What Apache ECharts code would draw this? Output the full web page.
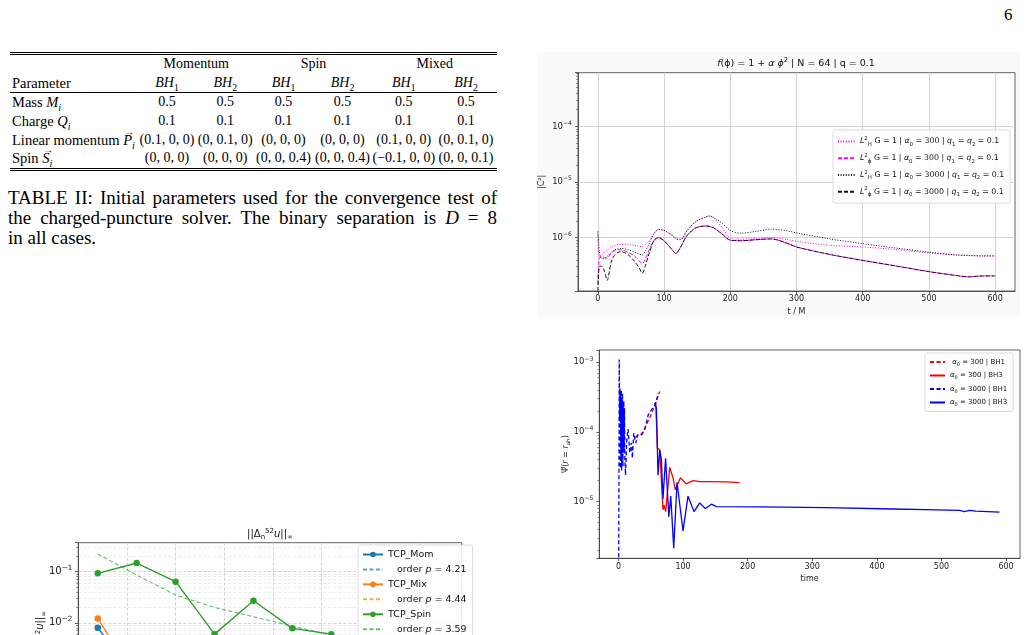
<!DOCTYPE html>
<html>
<head>
<meta charset="utf-8">
<script src="https://cdn.jsdelivr.net/npm/echarts@6/dist/echarts.min.js"></script>
<style>
html, body { margin: 0; padding: 0; background: #fff; }
body { width: 1028px; height: 635px; overflow: hidden; position: relative; font-family: 'Liberation Serif', serif; color: #000; }
#pageNo { position: absolute; left: 1004px; top: 5px; font-size: 17px; }
#tbl { position: absolute; left: 10px; top: 52px; width: 487px; table-layout: fixed; border-collapse: collapse; font-size: 14px;
  border-top: 3px double #000; border-bottom: 3px double #000; }
#tbl td { padding: 0; height: 18.6px; line-height: 18px; text-align: center; white-space: nowrap; }
#tbl td:first-child { text-align: left; padding-left: 2px; font-size: 14.5px; }
#tbl tr.sub td { border-bottom: 1px solid #000; }
#tbl sub { font-size: 70%; line-height: 0; }
.vec { position: relative; display: inline-block; }
.vec::after { content: '\2192'; position: absolute; left: 1px; top: -8px; font-size: 10px; font-style: normal; }
#cap { position: absolute; left: 8px; top: 188px; width: 489px; font-size: 19px; line-height: 20px; }
#cap span { display: block; text-align: justify; text-align-last: justify; }
#cap span.last { text-align: left; text-align-last: left; }
.chart { position: absolute; }
#c1 { left: 537px; top: 52px; width: 483px; height: 266px; }
#c2 { left: 560px; top: 345px; width: 465px; height: 245px; }
#c3 { left: 0; top: 520px; width: 480px; height: 300px; }
</style>
</head>
<body>
<div id="pageNo">6</div>
<table id="tbl">
  <colgroup>
    <col style="width:128px"><col style="width:58px"><col style="width:58.5px"><col style="width:58px">
    <col style="width:60px"><col style="width:62.5px"><col style="width:62px">
  </colgroup>
  <tbody id="tbody"></tbody>
</table>
<div id="cap">
  <span>TABLE II: Initial parameters used for the convergence test of</span>
  <span>the charged-puncture solver. The binary separation is <i>D</i> = 8</span>
  <span class="last">in all cases.</span>
</div>
<div id="c1" class="chart"></div>
<div id="c2" class="chart"></div>
<div id="c3" class="chart"></div>

<script>
// ---------- table II ----------
const groupNames = ['Momentum', 'Spin', 'Mixed']
const massRow = ['0.5', '0.5', '0.5', '0.5', '0.5', '0.5']
const chargeRow = ['0.1', '0.1', '0.1', '0.1', '0.1', '0.1']
const momentumRow = ['(0.1, 0, 0)', '(0, 0.1, 0)', '(0, 0, 0)', '(0, 0, 0)', '(0.1, 0, 0)', '(0, 0.1, 0)']
const spinRow = ['(0, 0, 0)', '(0, 0, 0)', '(0, 0, 0.4)', '(0, 0, 0.4)', '(\u22120.1, 0, 0)', '(0, 0, 0.1)']

function rowHtml(label, cells, cls) {
  return '<tr' + (cls ? ' class="' + cls + '"' : '') + '><td>' + label + '</td>' +
    cells.map(c => '<td>' + c + '</td>').join('') + '</tr>'
}
const bh = i => '<i>BH</i><sub>' + i + '</sub>'
document.getElementById('tbody').innerHTML =
  '<tr><td></td>' + groupNames.map(g => '<td colspan="2">' + g + '</td>').join('') + '</tr>' +
  rowHtml('Parameter', [bh(1), bh(2), bh(1), bh(2), bh(1), bh(2)], 'sub') +
  rowHtml('Mass <i>M<sub>i</sub></i>', massRow) +
  rowHtml('Charge <i>Q<sub>i</sub></i>', chargeRow) +
  rowHtml('Linear momentum <i><span class="vec">P</span><sub>i</sub></i>', momentumRow) +
  rowHtml('Spin <i><span class="vec">S</span><sub>i</sub></i>', spinRow)

// ---------- chart 1: |C^2| vs t/M ----------
const tC = [0, 2, 5, 10, 14, 20, 25, 30, 35, 45, 55, 62, 67, 72, 78, 85, 92, 100, 110, 118, 125, 135, 148, 163, 168, 175, 188, 200, 215, 240, 262, 285, 300, 350, 400, 450, 500, 540, 560, 580, 600]
const hamil300 = [1.25e-6, 4.5e-7, 4.6e-7, 5.5e-7, 6.0e-7, 6.8e-7, 7.2e-7, 7.5e-7, 7.6e-7, 7.5e-7, 7.3e-7, 7.0e-7, 6.9e-7, 7.5e-7, 9.0e-7, 1.2e-6, 1.4e-6, 1.35e-6, 1.15e-6, 1.0e-6, 9.5e-7, 1.35e-6, 1.95e-6, 2.35e-6, 2.45e-6, 2.25e-6, 1.5e-6, 9.8e-7, 9.4e-7, 9.7e-7, 1.0e-6, 9.3e-7, 8.6e-7, 7.3e-7, 6.8e-7, 6.1e-7, 5.3e-7, 4.9e-7, 4.75e-7, 4.7e-7, 4.7e-7]
const phi300 = [1.5e-7, 4.0e-7, 4.6e-7, 4.4e-7, 4.3e-7, 5.2e-7, 5.8e-7, 6.1e-7, 6.0e-7, 5.5e-7, 4.7e-7, 3.9e-7, 3.4e-7, 4.2e-7, 6.2e-7, 9.0e-7, 1.0e-6, 8.8e-7, 6.5e-7, 5.2e-7, 6.8e-7, 1.1e-6, 1.5e-6, 1.62e-6, 1.6e-6, 1.5e-6, 1.15e-6, 9.0e-7, 8.8e-7, 9.2e-7, 9.5e-7, 8.0e-7, 6.8e-7, 5.0e-7, 3.9e-7, 3.1e-7, 2.45e-7, 2.1e-7, 1.98e-7, 2.05e-7, 2.05e-7]
const hamil3000 = [1.3e-6, 6.0e-7, 4.3e-7, 4.2e-7, 4.6e-7, 5.4e-7, 6.0e-7, 6.3e-7, 6.4e-7, 6.1e-7, 5.5e-7, 5.1e-7, 4.9e-7, 5.8e-7, 8.0e-7, 1.2e-6, 1.4e-6, 1.35e-6, 1.15e-6, 9.5e-7, 9.2e-7, 1.35e-6, 1.95e-6, 2.35e-6, 2.45e-6, 2.3e-6, 1.8e-6, 1.35e-6, 1.2e-6, 1.3e-6, 1.42e-6, 1.33e-6, 1.22e-6, 9.5e-7, 7.8e-7, 6.5e-7, 5.5e-7, 4.9e-7, 4.8e-7, 4.7e-7, 4.7e-7]
const phi3000 = [1.1e-7, 3.0e-7, 3.1e-7, 2.5e-7, 1.7e-7, 3.6e-7, 4.8e-7, 5.4e-7, 5.6e-7, 5.0e-7, 3.8e-7, 2.9e-7, 2.3e-7, 3.2e-7, 5.5e-7, 9.0e-7, 1.0e-6, 8.8e-7, 6.5e-7, 5.2e-7, 6.8e-7, 1.1e-6, 1.5e-6, 1.62e-6, 1.6e-6, 1.5e-6, 1.15e-6, 9.0e-7, 8.8e-7, 9.2e-7, 9.5e-7, 8.0e-7, 6.8e-7, 5.0e-7, 3.9e-7, 3.1e-7, 2.45e-7, 2.1e-7, 1.98e-7, 2.05e-7, 2.05e-7]
const c1Names = ['LH 300', 'Lphi 300', 'LH 3000', 'Lphi 3000']
const c1Labels = [
  '{it|L}{sup|2}{sub|H} G = 1 | {it|\u03B1}{sub|0} = 300 | {it|q}{sub|1} = {it|q}{sub|2} = 0.1',
  '{it|L}{sup|2}{sub|\u03D5} G = 1 | {it|\u03B1}{sub|0} = 300 | {it|q}{sub|1} = {it|q}{sub|2} = 0.1',
  '{it|L}{sup|2}{sub|H} G = 1 | {it|\u03B1}{sub|0} = 3000 | {it|q}{sub|1} = {it|q}{sub|2} = 0.1',
  '{it|L}{sup|2}{sub|\u03D5} G = 1 | {it|\u03B1}{sub|0} = 3000 | {it|q}{sub|1} = {it|q}{sub|2} = 0.1'
]

// ---------- chart 2: psi tilde at the apparent horizon ----------
const bh1Alpha3000 = [[0.5, 1.6e-6], [1.3, 1.1e-3], [1.9, 1.5e-4], [2.4, 4.2e-4], [2.9, 3.0e-5], [3.4, 3.8e-4], [3.9, 4.5e-5], [4.4, 4.0e-4], [4.9, 2.8e-5], [5.4, 3.0e-4], [5.9, 5.0e-5], [6.4, 3.6e-4], [6.9, 3.2e-5], [7.4, 2.6e-4], [7.9, 6.0e-5], [8.4, 2.8e-4], [8.9, 5.0e-5], [9.4, 2.2e-4], [10, 4.0e-5], [11, 2.4e-5], [13, 8.0e-5], [15, 1.1e-4], [17.5, 5.0e-5], [20, 7.0e-5], [21.6, 4.2e-5], [23.7, 9.6e-5], [26.8, 6.9e-5], [30, 9.1e-5], [35.6, 9.0e-5], [40.7, 1.07e-4], [46, 1.75e-4], [51, 2.07e-4], [56, 2.4e-4], [59, 2.9e-4], [62, 3.6e-4]]
const bh1Alpha300 = [[26, 8.2e-5], [30, 9.1e-5], [35.6, 9.3e-5], [42, 1.2e-4], [48.5, 1.6e-4], [55, 2.2e-4], [60, 3.0e-4], [64, 3.8e-4]]
const bh3Alpha300 = [[57.7, 2.7e-4], [60.3, 5.9e-5], [64, 5.5e-5], [66.5, 2.0e-5], [69, 7.6e-6], [70.6, 8.9e-6], [73.2, 7.2e-6], [76.8, 1.7e-5], [79.4, 3.1e-5], [84.5, 2.2e-5], [88, 1.48e-5], [96, 2.2e-5], [105, 1.8e-5], [115.5, 2.0e-5], [125.8, 1.94e-5], [141, 1.94e-5], [167, 1.92e-5], [187.6, 1.87e-5]]
const bh3Alpha3000 = [[56.2, 2.6e-4], [58.8, 2.2e-4], [61.3, 2.4e-5], [64, 5.5e-5], [66.5, 4.0e-5], [69, 1.1e-5], [73, 4.2e-5], [78, 6.1e-6], [81, 1.2e-5], [85.6, 2.15e-6], [90.7, 1.9e-5], [100, 3.8e-6], [107.7, 1.2e-5], [117, 7.2e-6], [125.8, 9.6e-6], [134.5, 8.0e-6], [144, 9.2e-6], [151.5, 8.5e-6], [218.6, 8.4e-6], [321.6, 8.2e-6], [424.7, 7.85e-6], [476, 7.7e-6], [528, 7.5e-6], [535.6, 7.2e-6], [543, 7.5e-6], [553.6, 7.3e-6], [589.7, 7.1e-6]]
const c2Labels = [
  ' {it|\u03B1}{sub|0} = 300 | BH1',
  '{it|\u03B1}{sub|0} = 300 | BH3',
  '{it|\u03B1}{sub|0} = 3000 | BH1',
  '{it|\u03B1}{sub|0} = 3000 | BH3'
]

// ---------- chart 3: convergence ----------
const nRes = [10, 30, 50, 70, 90, 110, 130]
const tcpMom = [8.0e-3, 7.9e-4]
const tcpMix = [1.22e-2, 7.5e-4]
const tcpSpin = [9.3e-2, 1.48e-1, 6.4e-2, 6.0e-3, 2.7e-2, 7.8e-3, 6.0e-3]
const fitMom = []   // falls below the visible crop
const fitMix = []   // falls below the visible crop
const fitSpin = [2.23e-1, 8.6e-2, 3.5e-2, 2.0e-2, 1.32e-2, 8.6e-3, 5.7e-3]
const c3Names = ['TCP_Mom', 'fitMom', 'TCP_Mix', 'fitMix', 'TCP_Spin', 'fitSpin']
const c3Labels = ['TCP_Mom', '   order {it|p} = 4.21', 'TCP_Mix', '   order {it|p} = 4.44', 'TCP_Spin', '   order {it|p} = 3.59']

// ---------- helpers ----------
const FONT = 'DejaVu Sans'
const AXIS = '#3a3a3a'
const zip = (xs, ys) => ys.map((y, i) => [xs[i], y])

function powLabel(v) {
  const l = Math.log10(v)
  const e = Math.round(l)
  if (Math.abs(l - e) > 1e-6) return ''
  return '{b|10}{s|' + (e < 0 ? '\u2212' + (-e) : e) + '}'
}
function powRich(size) {
  return {
    b: { fontSize: size, lineHeight: size + 4, color: '#222', fontFamily: FONT },
    s: { fontSize: size * 0.72, lineHeight: size * 0.8, verticalAlign: 'top', color: '#222', fontFamily: FONT },
  }
}
function mathRich(size, color) {
  return {
    it: { fontSize: size, fontStyle: 'italic', fontFamily: FONT, color, lineHeight: size + 3 },
    sup: { fontSize: size * 0.7, fontFamily: FONT, color, verticalAlign: 'top', lineHeight: size * 0.75 },
    sub: { fontSize: size * 0.7, fontFamily: FONT, color, verticalAlign: 'bottom', lineHeight: size * 0.75 },
  }
}
function axisBase(tickLen) {
  return {
    nameMoveOverlap: false,
    axisLine: { show: true, onZero: false, lineStyle: { color: AXIS, width: 0.8 } },
    axisTick: { length: tickLen, lineStyle: { color: AXIS, width: 0.8 } },
  }
}
const lineOnly = name => ({ name, itemStyle: { opacity: 0 } })

// ---------- chart 1 ----------
const chart1 = echarts.init(document.getElementById('c1'))
const c1Styles = [
  { color: '#ff00ff', type: [1, 1.6] },
  { color: '#ff00ff', type: [4, 2] },
  { color: '#111111', type: [1, 1.6] },
  { color: '#111111', type: [4, 2] },
]
chart1.setOption({
  animation: false,
  backgroundColor: '#fafafa',
  textStyle: { fontFamily: FONT },
  title: {
    text: '{it|f}(\u03D5) = 1 + {it|\u03B1} {it|\u03D5}{sup|2} | N = 64 | q = 0.1',
    left: 259, top: 11.5, textAlign: 'center', textVerticalAlign: 'middle', padding: 0,
    textStyle: { fontSize: 9.5, fontWeight: 'normal', color: '#111', rich: mathRich(9.5, '#111') },
  },
  grid: { left: 41, top: 20.7, right: 5, bottom: 27, outerBoundsMode: 'none', show: true, borderColor: AXIS, borderWidth: 0.8, backgroundColor: '#fff' },
  legend: {
    orient: 'vertical', left: 296, top: 78, padding: [6, 6, 6, 4], itemGap: 6, itemWidth: 17, itemHeight: 6,
    backgroundColor: 'rgba(255,255,255,0.85)', borderColor: '#d4d4d4', borderWidth: 0.8, borderRadius: 2,
    data: c1Names.map(lineOnly),
    formatter: name => c1Labels[c1Names.indexOf(name)],
    textStyle: { fontSize: 7.8, color: '#111', lineHeight: 10, rich: mathRich(7.8, '#111') },
  },
  xAxis: Object.assign(axisBase(3), {
    type: 'value', min: -30, max: 630,
    name: 't / M', nameLocation: 'middle', nameGap: 17, nameTextStyle: { fontSize: 8, color: '#222' },
    axisLabel: { fontSize: 8, color: '#222', margin: 4, showMinLabel: false, showMaxLabel: false },
    splitLine: { show: true, showMinLine: false, showMaxLine: false, lineStyle: { color: '#d4d4d4', width: 1 } },
  }),
  yAxis: Object.assign(axisBase(3), {
    type: 'log', min: 1.1e-7, max: 9.2e-4,
    name: '|C\u00B2|', nameLocation: 'middle', nameGap: 32, nameTextStyle: { fontSize: 8, color: '#222' },
    minorTick: { show: true, splitNumber: 9, length: 1.8, lineStyle: { color: AXIS, width: 0.6 } },
    axisLabel: { margin: 6, formatter: powLabel, rich: powRich(8.5) },
    splitLine: { show: true, showMinLine: false, showMaxLine: false, lineStyle: { color: '#d4d4d4', width: 1 } },
  }),
  series: [hamil300, phi300, hamil3000, phi3000].map((vals, i) => ({
    type: 'line', name: c1Names[i], data: zip(tC, vals), symbol: 'none', smooth: 0.3,
    lineStyle: { color: c1Styles[i].color, type: c1Styles[i].type, width: 1 },
    itemStyle: { color: c1Styles[i].color },
  })),
})

// ---------- chart 2 ----------
const chart2 = echarts.init(document.getElementById('c2'))
const c2Series = [
  { name: 'a300 BH1', data: bh1Alpha300, color: '#ff0000', type: [4, 2.5] },
  { name: 'a300 BH3', data: bh3Alpha300, color: '#ff0000', type: 'solid' },
  { name: 'a3000 BH1', data: bh1Alpha3000, color: '#0000ff', type: [4, 2.5] },
  { name: 'a3000 BH3', data: bh3Alpha3000, color: '#0000ff', type: 'solid' },
]
chart2.setOption({
  animation: false,
  textStyle: { fontFamily: FONT },
  grid: { left: 39.3, top: 5, right: 5, bottom: 31.7, outerBoundsMode: 'none', show: true, borderColor: AXIS, borderWidth: 0.8, backgroundColor: '#fff' },
  legend: {
    orient: 'vertical', left: 365, top: 8, padding: [4, 6, 4, 4], itemGap: 3.5, itemWidth: 15, itemHeight: 6,
    backgroundColor: 'rgba(255,255,255,0.85)', borderColor: '#d4d4d4', borderWidth: 0.8, borderRadius: 2,
    data: c2Series.map(s => lineOnly(s.name)),
    formatter: name => c2Labels[c2Series.findIndex(s => s.name === name)],
    textStyle: { fontSize: 7, color: '#111', lineHeight: 8, rich: mathRich(7, '#111') },
  },
  xAxis: Object.assign(axisBase(3), {
    type: 'value', min: -29.6, max: 621.6,
    name: 'time', nameLocation: 'middle', nameGap: 17, nameTextStyle: { fontSize: 8, color: '#222' },
    axisLabel: { fontSize: 8, color: '#222', margin: 5, showMinLabel: false, showMaxLabel: false },
    splitLine: { show: false },
  }),
  yAxis: Object.assign(axisBase(3), {
    type: 'log', min: 1.54e-6, max: 1.5e-3,
    name: '{n|\u03A8\u0303(}{it|r} = {it|r}{sub|ah}{n|)}', nameLocation: 'middle', nameGap: 28,
    nameTextStyle: { fontSize: 8, color: '#222', rich: Object.assign({ n: { fontSize: 8, color: '#222' } }, mathRich(8, '#222')) },
    minorTick: { show: true, splitNumber: 9, length: 1.8, lineStyle: { color: AXIS, width: 0.6 } },
    axisLabel: { margin: 6, formatter: powLabel, rich: powRich(8.5) },
    splitLine: { show: false },
  }),
  series: c2Series.map(s => ({
    type: 'line', name: s.name, data: s.data, symbol: 'none',
    lineStyle: { color: s.color, type: s.type, width: 1.3 },
    itemStyle: { color: s.color },
  })),
})

// ---------- chart 3 ----------
const chart3 = echarts.init(document.getElementById('c3'))
const TAB = { blue: '#1f77b4', orange: '#ff7f0e', green: '#2ca02c' }
const c3Series = [
  { data: zip(nRes, tcpMom), color: TAB.blue, fit: false },
  { data: zip(nRes, fitMom), color: 'rgba(31,119,180,0.7)', fit: true },
  { data: zip(nRes, tcpMix), color: TAB.orange, fit: false },
  { data: zip(nRes, fitMix), color: 'rgba(255,127,14,0.7)', fit: true },
  { data: zip(nRes, tcpSpin), color: TAB.green, fit: false },
  { data: zip(nRes, fitSpin), color: 'rgba(44,160,44,0.7)', fit: true },
]
chart3.setOption({
  animation: false,
  textStyle: { fontFamily: FONT },
  title: {
    text: '||\u0394{sub|n}{sup|52}{it|u}||{sub|\u221E}',
    left: 270, top: 14, textAlign: 'center', textVerticalAlign: 'middle', padding: 0,
    textStyle: { fontSize: 10, fontWeight: 'normal', color: '#111', rich: mathRich(10, '#111') },
  },
  grid: { left: 78.3, top: 22.7, right: 18.3, bottom: 95, outerBoundsMode: 'none', show: true, borderColor: AXIS, borderWidth: 0.8, backgroundColor: '#fff' },
  legend: {
    orient: 'vertical', left: 358, top: 25, padding: [4, 6, 4, 4], itemGap: 3.2, itemWidth: 20, itemHeight: 7,
    backgroundColor: 'rgba(255,255,255,0.85)', borderColor: '#d4d4d4', borderWidth: 0.8, borderRadius: 2,
    data: c3Names.map((n, i) => (c3Series[i].fit ? lineOnly(n) : n)),
    formatter: name => c3Labels[c3Names.indexOf(name)],
    textStyle: { fontSize: 9.5, color: '#111', lineHeight: 11, rich: mathRich(9.5, '#111') },
  },
  xAxis: Object.assign(axisBase(3.5), {
    type: 'value', min: 0, max: 197, interval: 25,
    axisLabel: { fontSize: 10, color: '#222', margin: 5, showMaxLabel: false },
    splitLine: { show: true, showMinLine: false, showMaxLine: false, lineStyle: { color: '#c8c8c8', width: 0.8, type: [3, 2] } },
  }),
  yAxis: Object.assign(axisBase(3.5), {
    type: 'log', min: 1e-4, max: 0.37,
    name: '||\u0394{sub|n}{sup|52}{it|u}||{sub|\u221E}', nameLocation: 'middle', nameGap: 31,
    nameTextStyle: { fontSize: 10, color: '#111', rich: mathRich(10, '#111') },
    minorTick: { show: true, splitNumber: 9, length: 2, lineStyle: { color: AXIS, width: 0.6 } },
    axisLabel: { margin: 6, formatter: powLabel, rich: powRich(10) },
    splitLine: { show: true, showMinLine: false, showMaxLine: false, lineStyle: { color: '#c8c8c8', width: 0.8, type: [3, 2] } },
    minorSplitLine: { show: true, lineStyle: { color: '#dedede', width: 0.6, type: [3, 2] } },
  }),
  series: c3Series.map((s, i) => ({
    type: 'line', name: c3Names[i], data: s.data,
    symbol: s.fit ? 'none' : 'circle', symbolSize: 6.5,
    lineStyle: { color: s.color, width: s.fit ? 1.1 : 1.4, type: s.fit ? [4, 2.5] : 'solid' },
    itemStyle: { color: s.color },
  })),
})
</script>
</body>
</html>
